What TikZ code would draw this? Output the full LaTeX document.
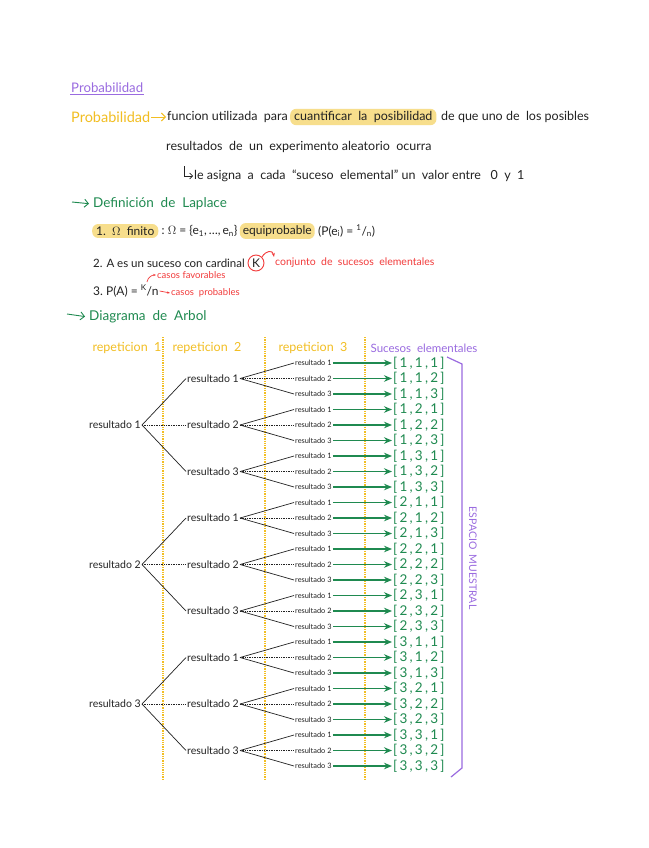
\documentclass[tikz,border=0pt]{standalone}
\usepackage{fontspec}
\setmainfont{Lato}
\usetikzlibrary{arrows.meta,calc}
\definecolor{purp}{HTML}{9A6BE0}
\definecolor{yel}{HTML}{F2BE22}
\definecolor{hl}{HTML}{F7DE8C}
\definecolor{grn}{HTML}{1F8A50}
\definecolor{rd}{HTML}{F23B3B}
\definecolor{ink}{HTML}{222222}
\begin{document}
\begin{tikzpicture}[x=1pt,y=-1pt,
  every node/.style={inner sep=1pt,text=ink},
  body/.style={anchor=west,font=\fontsize{12.5}{15}\selectfont},
  item/.style={anchor=west,font=\fontsize{12}{14}\selectfont},
  head/.style={anchor=west,font=\fontsize{13.5}{16}\selectfont},
  hilite/.style={fill=hl,rounded corners=6pt,inner xsep=4pt,inner ysep=2.5pt},
  redtxt/.style={anchor=west,text=rd,font=\fontsize{10.5}{12}\selectfont},
  colhead/.style={text=yel,font=\fontsize{12.5}{14}\selectfont},
  r1/.style={font=\fontsize{10.5}{12}\selectfont},
  r3/.style={font=\fontsize{7.4}{9}\selectfont},
  res/.style={anchor=west,text=grn,font=\fontsize{13.5}{15}\selectfont},
  lk1/.style={solid},lk2/.style={densely dotted},lk3/.style={solid},
  tree/.style={draw=ink,line width=0.7pt},
  guide/.style={draw=yel,line width=1.3pt,densely dotted},
  harrow/.style={line width=0.9pt,-{Straight Barb[length=4pt]}},
  garrow/.style={draw=grn,line width=1.4pt,-{Stealth[length=8pt,width=6.5pt]}}]
\useasboundingbox (0,0) rectangle (648,848);
\fill[white] (0,0) rectangle (648,848);

% title
\node[anchor=west,text=purp,font=\fontsize{13.2}{15}\selectfont] (title) at (70,88) {Probabilidad};
\draw[purp,line width=0.6pt] (title.south west) -- (title.south east);

% definition
\node[head,text=yel,font=\fontsize{14.5}{17}\selectfont] (prob) at (70,117) {Probabilidad};
\node[body] (def1) at (166,117) {funcion utilizada\ \ para};
\draw[yel,harrow] (prob.east) -- (def1.west);
\node[body,hilite] (cuant) at (290,117) {cuantificar\ \ la\ \ posibilidad};
\node[body] (rest) at (440,117) {de que uno de\ \ los posibles};
\node[body] (l3) at (165,147) {resultados\ \ de\ \ un\ \ experimento aleatorio\ \ ocurra};
\node[body] (l4) at (193,176) {le asigna\ \ a\ \ cada\ \ “suceso\ \ elemental” un\ \ valor entre\ \ \ 0\ \ y\ \ 1};
\coordinate (hk) at (184,166);
\draw[ink,line width=0.7pt,-{Straight Barb[length=3pt]}] (hk) |- (l4.west);

% Laplace
\coordinate (la) at (72,202);
\node[head,text=grn] (lap) at (92,204) {Definición\ \ de\ \ Laplace};
\draw[grn,harrow,shorten >=3pt] (la) -- (lap.west);

\node[item,hilite] (i1a) at (92,231) {1.\ \ $\Omega$\ \ finito};
\node[item] (i1b) at (i1a.east) {\,:\ $\Omega$ = \{e\textsubscript{1},\,\ldots,\,e\textsubscript{n}\}};
\node[item,hilite,inner xsep=3pt] (i1c) at ($(i1b.east)+(1,0)$) {equiprobable};
\node[item] (i1d) at ($(i1c.east)+(2,0)$) {(P(e\textsubscript{i}) = \textsuperscript{1}/\textsubscript{n})};

\node[item,font=\fontsize{11.5}{14}\selectfont] (i2) at (92,263) {2. A es un suceso con cardinal};
\node[draw=rd,circle,line width=0.9pt,inner sep=1pt,font=\fontsize{12}{14}\selectfont,minimum size=16pt] (k) at (256,263) {K};
\node[redtxt] (cj) at (274,263) {conjunto\ \ de\ \ sucesos\ \ elementales};
\draw[rd,line width=0.9pt,-{Stealth[length=4pt]}] (k.45) to[out=60,in=100,looseness=1.6] (cj.north west);

\node[item] (i3) at (92,291) {3.\ P(A)\ =\ \textsuperscript{K}/n};
\coordinate (ksup) at (147,282);
\node[redtxt,font=\fontsize{9.5}{10}\selectfont] (fav) at (156,275) {casos\ favorables};
\draw[rd,line width=0.7pt,-{Stealth[length=3pt]}] (ksup) to[out=80,in=180] (fav.west);
\node[redtxt,font=\fontsize{9.5}{11}\selectfont] (prb) at (170,293) {casos\ \ probables};
\draw[rd,line width=0.7pt,-{Stealth[length=3pt]}] (i3.east) -- (prb.west);

% tree diagram heading
\coordinate (da) at (67,314);
\node[head,text=grn] (dia) at (88,317) {Diagrama\ \ de\ \ Arbol};
\draw[grn,harrow,shorten >=3pt] (da) -- (dia.west);

\node[colhead] (h1) at (127,348) {repeticion\ \ 1};
\node[colhead] (h2) at (207,348) {repeticion\ \ 2};
\node[colhead] (h3) at (313,348) {repeticion\ \ 3};
\node[colhead,text=purp,font=\fontsize{11.5}{13}\selectfont] (h4) at (424,348) {Sucesos\ \ elementales};

\coordinate (g1t) at (163,337); \coordinate (g1b) at (163,779);
\coordinate (g2t) at (265,337); \coordinate (g2b) at (265,779);
\coordinate (g3t) at (365,337); \coordinate (g3b) at (365,779);
\draw[guide] (g1t) -- (g1b);
\draw[guide] (g2t) -- (g2b);
\draw[guide] (g3t) -- (g3b);

\foreach \i in {1,2,3}{
  \pgfmathsetmacro{\ya}{363+15.5*(9*(\i-1)+4)}
  \node[r1,anchor=east] (a\i) at (142,\ya) {resultado\ \i};
  \foreach \j in {1,2,3}{
    \pgfmathsetmacro{\yb}{363+15.5*(9*(\i-1)+3*(\j-1)+1)}
    \node[r1,anchor=west] (b\i\j) at (186,\yb) {resultado\ \j};
    \draw[tree,lk\j] (a\i.east) -- (b\i\j.west);
    \foreach \k in {1,2,3}{
      \pgfmathsetmacro{\yc}{363+15.5*(9*(\i-1)+3*(\j-1)+(\k-1))}
      \node[r3,anchor=west] (c\i\j\k) at (294,\yc) {resultado\ \k};
      \draw[tree,lk\k] (b\i\j.east) -- (c\i\j\k.west);
      \node[res] (s\i\j\k) at (392,\yc) {[\,\i\,,\,\j\,,\,\k\,]};
      \draw[garrow] (c\i\j\k.east) -- (s\i\j\k.west);
    }
  }
}

% sample space bracket
\coordinate (p1) at (447,357);
\coordinate (p2) at (462,364);
\coordinate (p3) at (462,768);
\coordinate (p4) at (451,777);
\draw[purp,line width=1.2pt] (p1) -- (p2) -- (p3) -- (p4);
\node[text=purp,rotate=-90,font=\fontsize{10.5}{12}\selectfont] (esp) at (473,558) {ESPACIO\ \ MUESTRAL};
\end{tikzpicture}
\end{document}
